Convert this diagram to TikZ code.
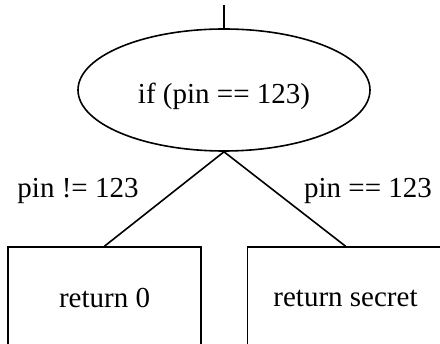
\documentclass[tikz,border=0pt]{standalone}
\usepackage{fontspec}
\setmainfont{Liberation Serif}
\usetikzlibrary{shapes.geometric}
\begin{document}
\begin{tikzpicture}[x=1pt,y=1pt,
  line/.style={line width=1.6pt},
  cond/.style={ellipse, draw, line width=1.6pt, minimum width=292pt, minimum height=122pt, inner sep=0pt, text height=33pt, text depth=6.5pt},
  stepbox/.style={rectangle, draw, line width=1.6pt, minimum height=102pt, inner sep=0pt},
  lbl/.style={inner sep=0pt},
  font=\fontsize{29}{34}\selectfont]
\path[use as bounding box, clip] (0,0) rectangle (440,-344);
\coordinate (top) at (224,-5);
\node[cond] (c) at (224,-90) {if (pin == 123)};
\node[stepbox, minimum width=193pt] (r0) at (104.5,-298) {return 0};
\node[stepbox, minimum width=196pt] (rs) at (345.5,-298) {return secret};
\node[lbl] (l1) at (78,-191) {pin != 123};
\node[lbl] (l2) at (368,-191) {pin == 123};
\draw[line] (top) -- (c.north);
\draw[line] (c.south) -- (r0.north);
\draw[line] (c.south) -- (rs.north);
\end{tikzpicture}
\end{document}
